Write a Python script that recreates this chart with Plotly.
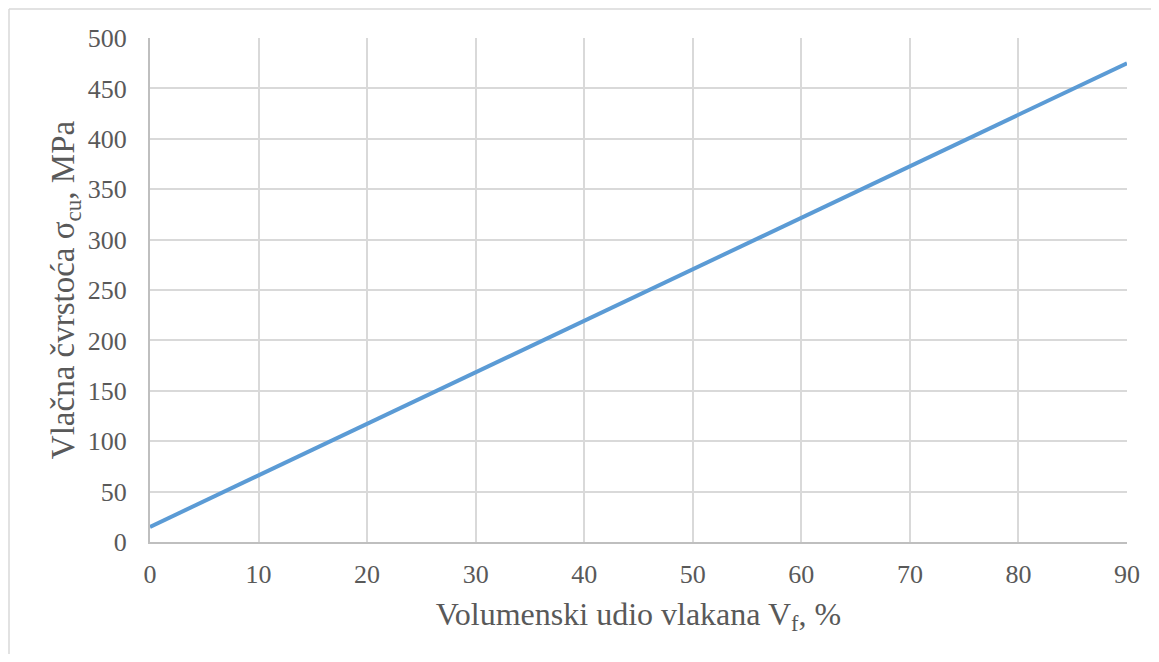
import plotly.graph_objects as go

vf = [0, 10, 20, 30, 40, 50, 60, 70, 80, 90]
sigma_cu = [15, 66, 117, 168, 219, 270, 322, 373, 424, 475]

x_ticks = [0, 10, 20, 30, 40, 50, 60, 70, 80, 90]
y_ticks = [0, 50, 100, 150, 200, 250, 300, 350, 400, 450, 500]

font_family = "Liberation Serif, Times New Roman, serif"
text_color = "#595959"

fig = go.Figure()
fig.add_trace(go.Scatter(
    x=vf, y=sigma_cu, mode="lines",
    line=dict(color="#5b9bd5", width=4),
    showlegend=False, hoverinfo="x+y",
))

# page body has an 8px margin, so the figure is shrunk and offset accordingly
OFF = 8
W, H = 1159 - 2 * OFF, 662 - 2 * OFF
ml, mt = 150 - OFF, 38 - OFF
mr = (1159 - OFF) - 1127
mb = (662 - OFF) - 542
pw, ph = W - ml - mr, H - mt - mb

fig.update_layout(
    width=W, height=H,
    margin=dict(l=ml, r=mr, t=mt, b=mb),
    paper_bgcolor="white", plot_bgcolor="white",
    font=dict(family=font_family, color=text_color, size=26),
    xaxis=dict(
        range=[0, 90], tickvals=x_ticks, showgrid=True, gridcolor="#d9d9d9", gridwidth=2,
        showline=True, linecolor="#bfbfbf", linewidth=2, zeroline=False,
        ticks="", ticklabelstandoff=8,
        tickfont=dict(size=26, color=text_color, family=font_family),
        title=dict(text="Volumenski udio vlakana V<sub>f</sub>, %",
                   font=dict(size=32, color=text_color, family=font_family), standoff=14),
    ),
    yaxis=dict(
        range=[0, 500], tickvals=y_ticks, showgrid=True, gridcolor="#d9d9d9", gridwidth=2,
        showline=True, linecolor="#bfbfbf", linewidth=2, zeroline=False,
        ticks="", ticklabelstandoff=16,
        tickfont=dict(size=26, color=text_color, family=font_family),
        title=dict(text="Vlačna čvrstoća σ<sub>cu</sub>, MPa",
                   font=dict(size=33, color=text_color, family=font_family), standoff=3),
    ),
)

# outer chart frame: only its left and top edges are visible in the reference
fx0 = (1 - ml) / pw
fy1 = (H - 1 - mb) / ph
fig.add_shape(type="line", xref="paper", yref="paper",
              x0=fx0, x1=(W + 20 - ml) / pw, y0=fy1, y1=fy1,
              line=dict(color="#d9d9d9", width=1.5), layer="below")
fig.add_shape(type="line", xref="paper", yref="paper",
              x0=fx0, x1=fx0, y0=-(mb + 20) / ph, y1=fy1,
              line=dict(color="#d9d9d9", width=1.5), layer="below")

fig.write_html("out.html")
